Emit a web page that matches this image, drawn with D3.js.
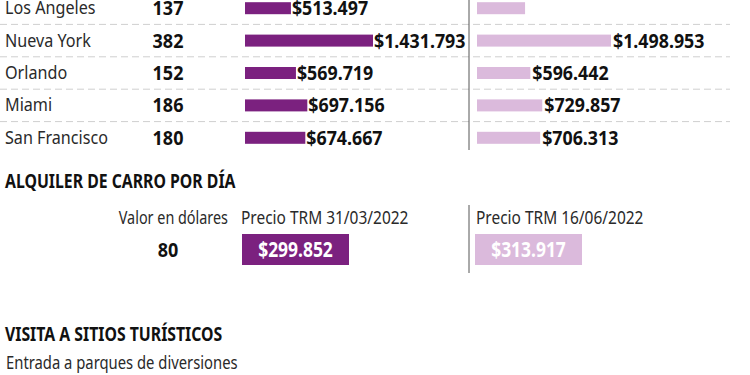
<!DOCTYPE html>
<html>
<head>
<meta charset="utf-8">
<script src="https://cdn.jsdelivr.net/npm/d3@7"></script>
<style>
  body { margin: 0; background: #fff; }
  svg text { font-family: "Noto Sans", "Open Sans", sans-serif; }
</style>
</head>
<body>
<svg id="chart"></svg>
<script>
"use strict";

const cities = ['Los Angeles', 'Nueva York', 'Orlando', 'Miami', 'San Francisco'];
const usdValues = [137, 382, 152, 186, 180];
const priceMar = [513497, 1431793, 569719, 697156, 674667];
const priceJun = [537583, 1498953, 596442, 729857, 706313];
const showJunLabel = [false, true, true, true, true];

const carUsd = 80;
const carMar = 299852;
const carJun = 313917;
const dateMar = 'Precio TRM 31/03/2022';
const dateJun = 'Precio TRM 16/06/2022';

const width = 750, height = 375;
const dark = '#7b217f', light = '#dbbadc';

let svg = d3.select('svg#chart')
  .attr('width', width)
  .attr('height', height);

const fmt = v => '$' + d3.format(',')(v).replace(/,/g, '.');

/* condensed text: regular font squeezed horizontally */
function condText(parent, x, y, txt, o) {
  o = o || {};
  let bold = !!o.bold;
  let sx = o.sx || (bold ? 0.8 : 0.78);
  return parent.append('text')
    .attr('transform', `translate(${x},${y}) scale(${sx},1)`)
    .attr('text-anchor', o.anchor || 'start')
    .style('font-size', `${o.size || (bold ? 20 : 18)}px`)
    .style('font-weight', bold ? 'bold' : 'normal')
    .attr('fill', o.fill || (bold ? '#111' : '#2a2a2a'))
    .text(txt);
}

/* scales */
let y = d3.scaleBand().domain(cities).range([-8, 154]).padding(0);
let x = d3.scaleLinear().domain([0, 1431793]).range([0, 128]);
const leftX = 245, rightX = 477;

/* dashed separators */
cities.slice(1).forEach(c => {
  svg.append('line')
    .attr('x1', 0).attr('x2', 730)
    .attr('y1', y(c)).attr('y2', y(c))
    .attr('stroke', '#cfcfcf')
    .attr('stroke-width', 1)
    .attr('stroke-dasharray', '7,4');
});

/* vertical divider */
svg.append('line')
  .attr('x1', 469).attr('x2', 469)
  .attr('y1', 0).attr('y2', 150)
  .attr('stroke', '#555').attr('stroke-width', 1);

cities.forEach((c, i) => {
  let g = svg.append('g')
    .attr('class', 'row')
    .attr('transform', `translate(0,${y(c) + y.bandwidth() / 2})`);

  condText(g, 5, 6, c, {size: 19, sx: 0.85});
  condText(g, 168, 7, usdValues[i], {bold: true, anchor: 'middle', sx: 0.9});

  g.append('rect')
    .attr('x', leftX).attr('y', -6)
    .attr('width', x(priceMar[i]))
    .attr('height', 12)
    .attr('fill', dark);
  condText(g, leftX + x(priceMar[i]) + 1, 7, fmt(priceMar[i]), {bold: true, sx: 0.89});

  g.append('rect')
    .attr('x', rightX).attr('y', -6)
    .attr('width', x(priceJun[i]))
    .attr('height', 12)
    .attr('fill', light);
  if (showJunLabel[i]) {
    condText(g, rightX + x(priceJun[i]) + 2, 7, fmt(priceJun[i]), {bold: true, sx: 0.89});
  }
});

/* car rental section */
condText(svg, 5, 188, 'ALQUILER DE CARRO POR DÍA', {bold: true, sx: 0.79});
condText(svg, 228, 224, 'Valor en dólares', {anchor: 'end', sx: 0.8});
condText(svg, 241, 224, dateMar, {sx: 0.86});
condText(svg, 476, 224, dateJun, {sx: 0.86});

svg.append('line')
  .attr('x1', 469).attr('x2', 469)
  .attr('y1', 205).attr('y2', 273)
  .attr('stroke', '#555').attr('stroke-width', 1);

condText(svg, 168, 257, carUsd, {bold: true, anchor: 'middle', sx: 0.9});

const boxW = 107;
[[242, carMar, dark], [475, carJun, light]].forEach(([bx, v, c]) => {
  svg.append('rect')
    .attr('x', bx).attr('y', 234)
    .attr('width', boxW).attr('height', 31)
    .attr('fill', c);
  condText(svg, bx + boxW / 2, 257, fmt(v), {bold: true, anchor: 'middle', fill: '#fff', size: 21, sx: 0.83});
});

/* tourist sites section */
condText(svg, 5, 341, 'VISITA A SITIOS TURÍSTICOS', {bold: true, sx: 0.79});
condText(svg, 6, 369, 'Entrada a parques de diversiones', {size: 19});
</script>
</body>
</html>
